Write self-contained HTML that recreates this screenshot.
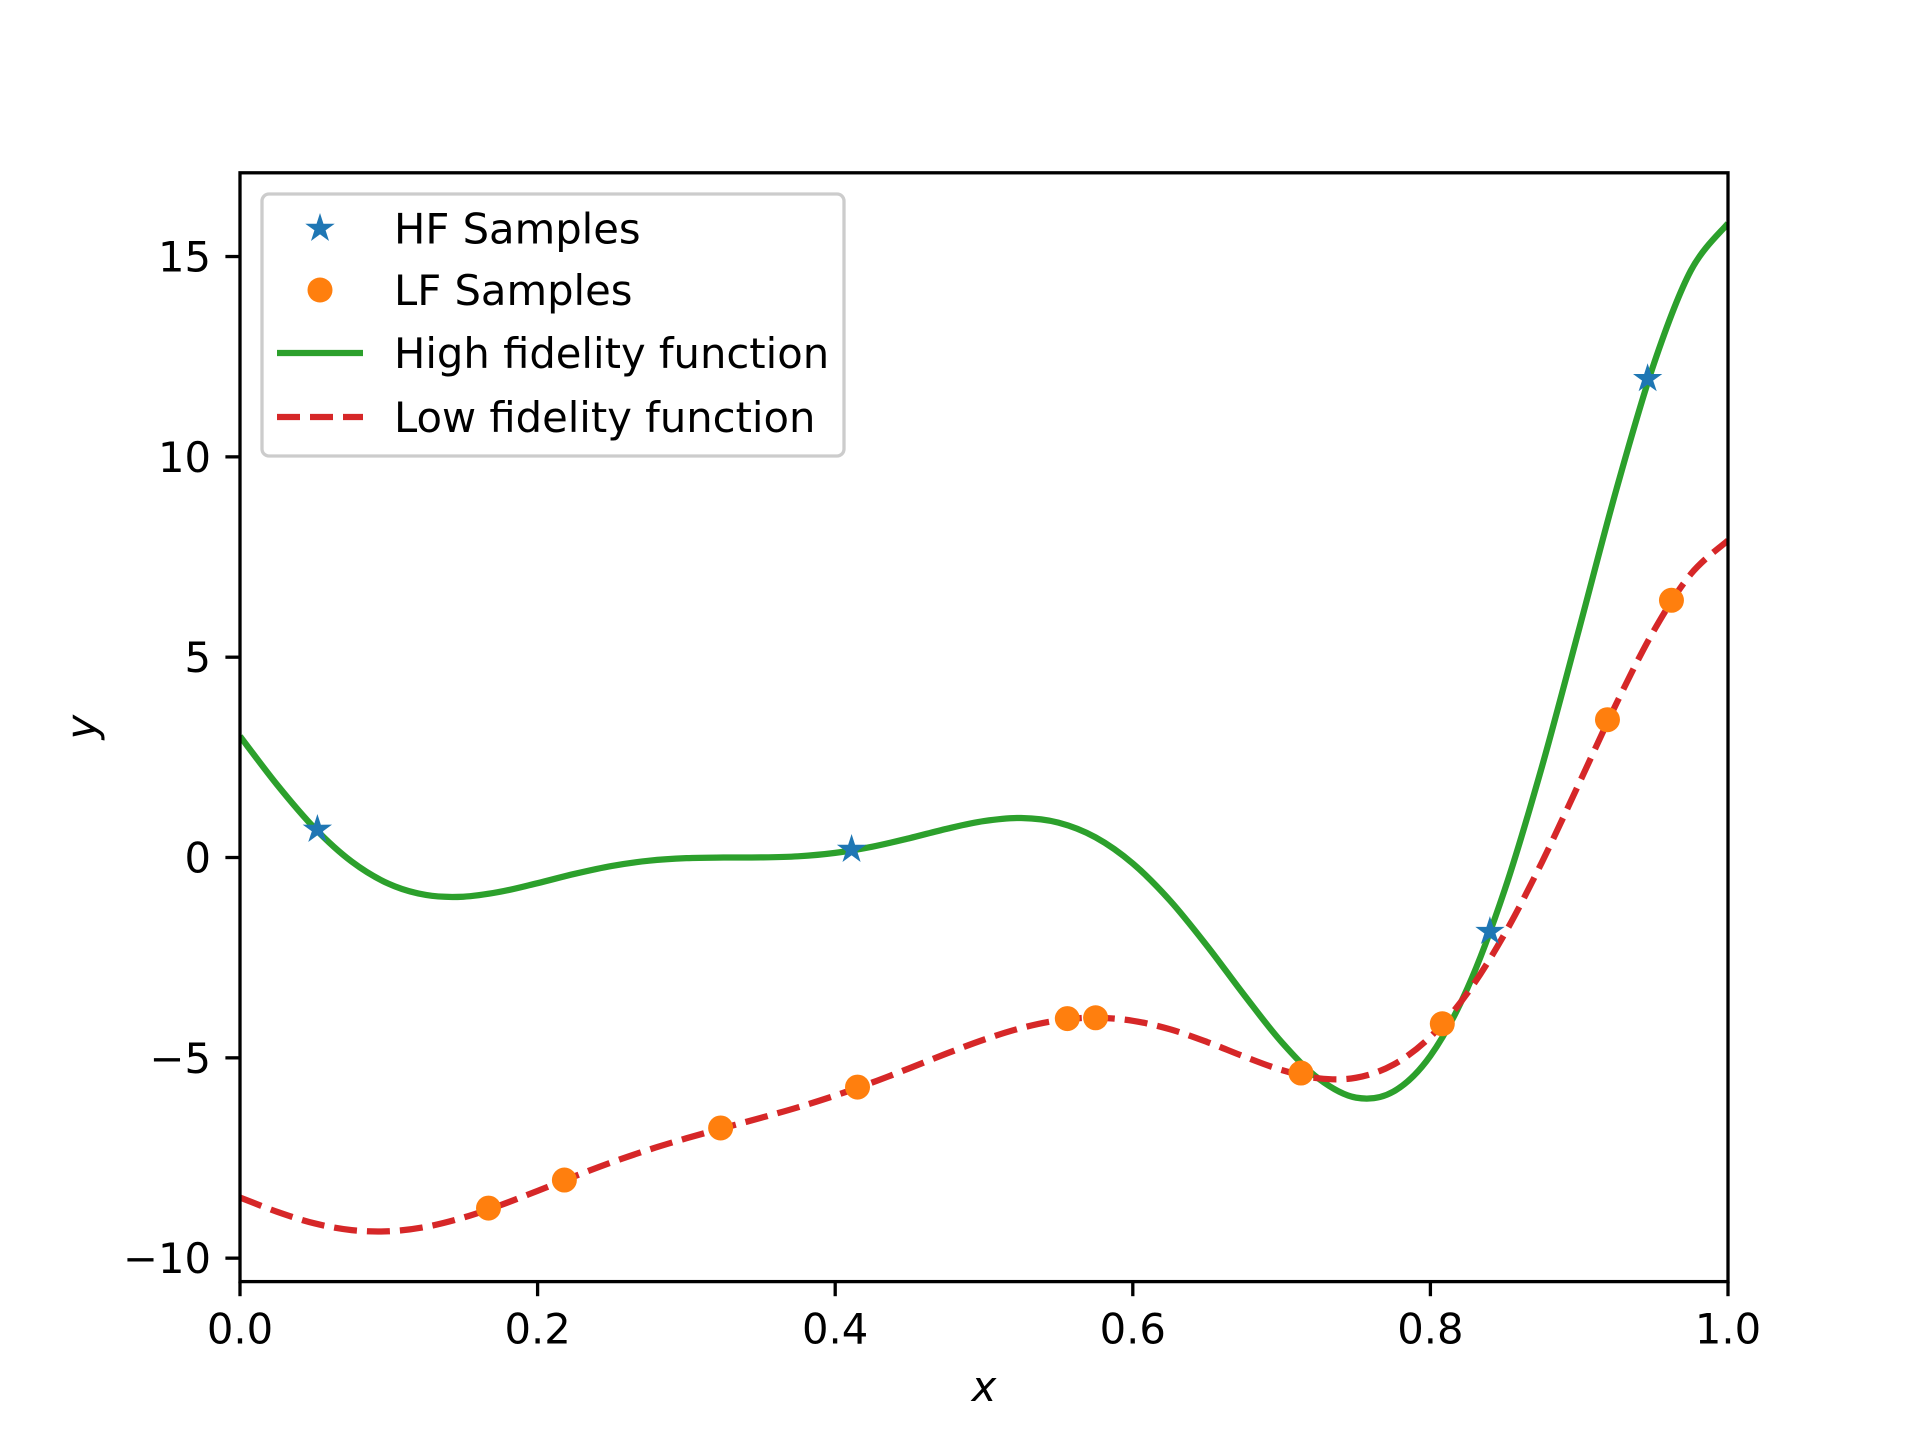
<!DOCTYPE html>
<html><head><meta charset="utf-8">
<style>
html,body{margin:0;padding:0;background:#fff;}
svg{display:block;font-family:"DejaVu Sans","Liberation Sans",sans-serif;}
</style></head>
<body>
<svg id="chart" width="1920" height="1440" viewBox="0 0 1920 1440">
<rect width="1920" height="1440" fill="#fff"/>
<g id="plot"></g>
</svg>
<script>
const xGrid = [0,0.025,0.05,0.075,0.1,0.125,0.15,0.175,0.2,0.225,0.25,0.275,0.3,0.325,0.35,0.375,0.4,0.425,0.45,0.475,0.5,0.525,0.55,0.575,0.6,0.625,0.65,0.675,0.7,0.725,0.75,0.775,0.8,0.825,0.85,0.875,0.9,0.925,0.95,0.975,1.0];
const hfValues = [3.027,1.813,0.738,-0.100,-0.657,-0.935,-0.978,-0.854,-0.640,-0.407,-0.210,-0.079,-0.016,0.000,0.002,0.030,0.115,0.270,0.483,0.717,0.909,0.986,0.871,0.503,-0.149,-1.074,-2.209,-3.439,-4.606,-5.522,-5.993,-5.845,-4.949,-3.254,-0.799,2.272,5.712,9.187,12.303,14.648,15.830];
const lfValues = [-8.486,-8.843,-9.131,-9.300,-9.329,-9.218,-8.989,-8.677,-8.320,-7.954,-7.605,-7.290,-7.008,-6.750,-6.499,-6.235,-5.942,-5.615,-5.258,-4.891,-4.545,-4.257,-4.064,-3.998,-4.075,-4.287,-4.605,-4.970,-5.303,-5.511,-5.497,-5.173,-4.475,-3.377,-1.900,-0.114,1.856,3.844,5.652,7.074,7.915];
const hfSampleX = [0.052,0.411,0.840,0.946];
const hfSampleY = [0.70,0.20,-1.85,11.95];
const lfSampleX = [0.167,0.218,0.323,0.415,0.556,0.575,0.713,0.808,0.919,0.962];
const lfSampleY = [-8.75,-8.05,-6.75,-5.73,-4.02,-4.00,-5.38,-4.15,3.44,6.42];
const xTicks = [0,0.2,0.4,0.6,0.8,1.0];
const xTickLabels = ["0.0","0.2","0.4","0.6","0.8","1.0"];
const yTicks = [-10,-5,0,5,10,15];
const yTickLabels = ["\u221210","\u22125","0","5","10","15"];

const L=240,R=1728,T=172.8,B=1281.6;
const xMin=0,xMax=1,yMin=-10.585,yMax=17.09;
const sx=v=>L+(v-xMin)/(xMax-xMin)*(R-L);
const sy=v=>B-(v-yMin)/(yMax-yMin)*(B-T);
const NS="http://www.w3.org/2000/svg";
const g=document.getElementById('plot');
function mk(tag,attrs,parent){const e=document.createElementNS(NS,tag);for(const k in attrs)e.setAttribute(k,attrs[k]);(parent||g).appendChild(e);return e;}

function smoothPath(xs,ys){
  const p=xs.map((x,i)=>[sx(x),sy(ys[i])]);
  let d=`M${p[0][0]},${p[0][1]}`;
  for(let i=0;i<p.length-1;i++){
    const p0=p[Math.max(i-1,0)],p1=p[i],p2=p[i+1],p3=p[Math.min(i+2,p.length-1)];
    const c1=[p1[0]+(p2[0]-p0[0])/6,p1[1]+(p2[1]-p0[1])/6];
    const c2=[p2[0]-(p3[0]-p1[0])/6,p2[1]-(p3[1]-p1[1])/6];
    d+=`C${c1[0]},${c1[1]} ${c2[0]},${c2[1]} ${p2[0]},${p2[1]}`;
  }
  return d;
}
const defs=mk('defs',{});
const cp=mk('clipPath',{id:'clip'},defs);
mk('rect',{x:L,y:T,width:R-L,height:B-T},cp);

const hf=mk('path',{d:smoothPath(xGrid,hfValues),fill:'none',stroke:'#2ca02c','stroke-width':6.25,'clip-path':'url(#clip)'});


const lf=mk('path',{d:smoothPath(xGrid,lfValues),fill:'none',stroke:'#d62728','stroke-width':6.25,'stroke-dasharray':'23,10','clip-path':'url(#clip)'});



function star(cx,cy,r){let pts=[];for(let i=0;i<10;i++){const a=-Math.PI/2+i*Math.PI/5;const rr=i%2?r*0.38:r;pts.push((cx+rr*Math.cos(a)).toFixed(1)+','+(cy+rr*Math.sin(a)).toFixed(1));}return pts.join(' ');}
lfSampleX.forEach((x,i)=>{
  const c=mk('circle',{cx:sx(x),cy:sy(lfSampleY[i]),r:12.5,fill:'#ff7f0e'});
  
  
});
hfSampleX.forEach((x,i)=>{
  const s=mk('polygon',{points:star(sx(x),sy(hfSampleY[i]),13),fill:'#1f77b4',stroke:'#1f77b4','stroke-width':1.5});
  
  
});

const frame=mk('rect',{x:L,y:T,width:R-L,height:B-T,fill:'none',stroke:'#000','stroke-width':3.3});



xTicks.forEach((v,i)=>{
  const x=sx(v);
  mk('line',{x1:x,y1:B,x2:x,y2:B+14.6,stroke:'#000','stroke-width':3.3});
  const t=mk('text',{x:x,y:B+62,'font-size':41.7,'text-anchor':'middle',fill:'#000'});
  t.textContent=xTickLabels[i];
  
  
});
yTicks.forEach((v,i)=>{
  const y=sy(v);
  mk('line',{x1:L,y1:y,x2:L-14.6,y2:y,stroke:'#000','stroke-width':3.3});
  const t=mk('text',{x:L-29,y:y+15,'font-size':41.7,'text-anchor':'end',fill:'#000'});
  t.textContent=yTickLabels[i];
  
  
});
const xl=mk('text',{x:(L+R)/2,y:1401,'font-size':41.7,'text-anchor':'middle','font-style':'italic'});
xl.textContent='x';


const yl=mk('text',{x:0,y:0,'font-size':41.7,'text-anchor':'middle','font-style':'italic',transform:`translate(96,${(T+B)/2}) rotate(-90)`});
yl.textContent='y';



// legend
const lg=mk('g',{});


mk('rect',{x:262,y:194,width:582,height:262,rx:7,fill:'#fff','fill-opacity':0.8,stroke:'#cccccc','stroke-width':3.3},lg);
const rows=[228.5,290,353,417];
const labels=['HF Samples','LF Samples','High fidelity function','Low fidelity function'];
mk('polygon',{points:star(320,rows[0],13),fill:'#1f77b4',stroke:'#1f77b4','stroke-width':1.5},lg);
mk('circle',{cx:320,cy:rows[1],r:12.5,fill:'#ff7f0e'},lg);
mk('line',{x1:277,y1:rows[2],x2:363,y2:rows[2],stroke:'#2ca02c','stroke-width':6.25},lg);
mk('line',{x1:277,y1:rows[3],x2:363,y2:rows[3],stroke:'#d62728','stroke-width':6.25,'stroke-dasharray':'23,10'},lg);
labels.forEach((s,i)=>{
  const t=mk('text',{x:394,y:rows[i]+15,'font-size':41.7,fill:'#000'},lg);
  t.textContent=s;
  
  
});
</script>
</body></html>
